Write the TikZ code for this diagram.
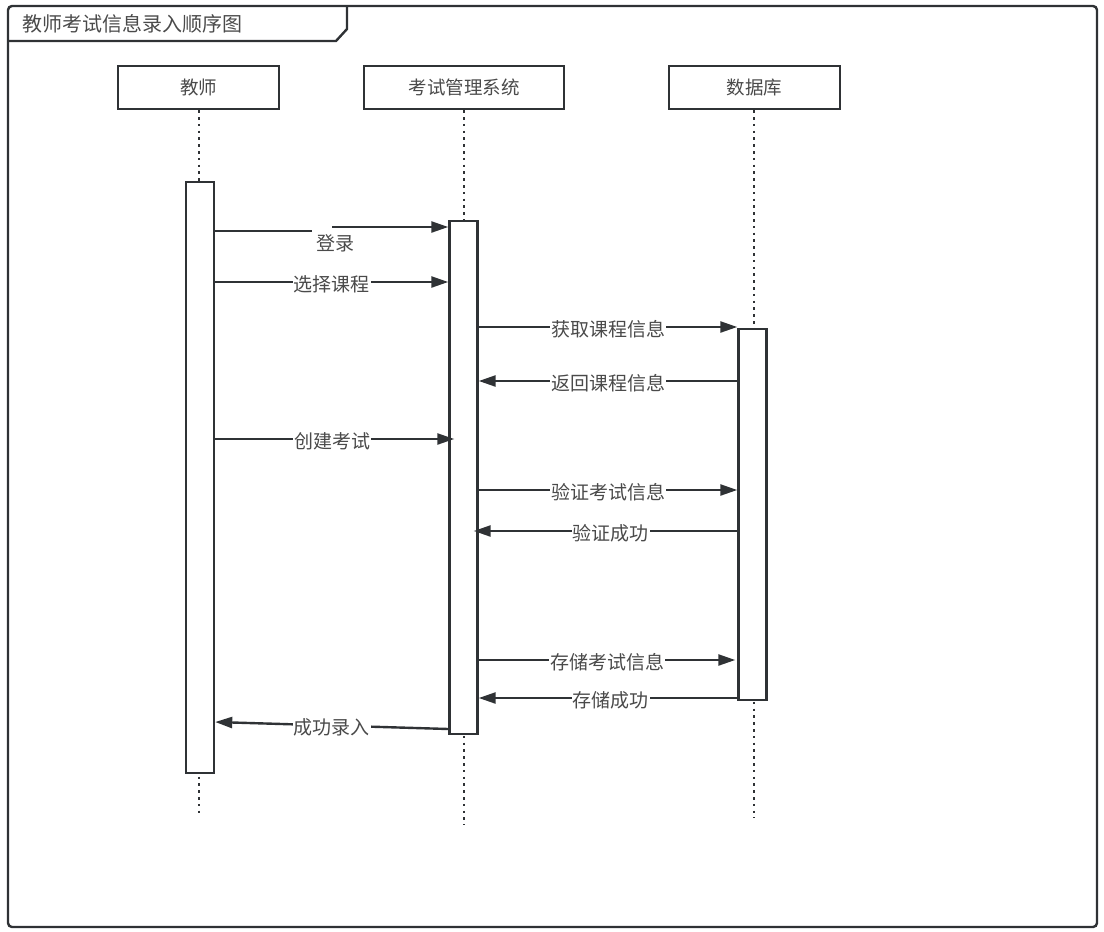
\documentclass[tikz,border=0pt]{standalone}
\usepackage{fontspec}
\setmainfont{Noto Sans CJK SC}
\usetikzlibrary{arrows.meta}
\definecolor{ln}{HTML}{2F3235}
\definecolor{tx}{HTML}{4A4A4A}
\tikzset{
  head/.style={draw=ln, line width=2.4pt, fill=white, minimum height=43pt, text=tx, font=\fontsize{18.5}{20}\selectfont, inner sep=0pt},
  act/.style={draw=ln, line width=2.4pt, fill=white, minimum width=28pt, inner sep=0pt},
  life/.style={draw=ln, line width=2.6pt, dash pattern=on 2.6pt off 4.2pt},
  msg/.style={draw=ln, line width=2.4pt, -{Triangle[length=17pt,width=11pt]}},
  lbl/.style={fill=white, text=tx, font=\fontsize{19}{21}\selectfont, inner sep=1pt, yshift=-2pt}
}
\begin{document}
\begin{tikzpicture}[x=1pt,y=-1pt]
\useasboundingbox (0,0) rectangle (1104,932);
% frame
\draw[ln, line width=2.4pt, rounded corners=4pt] (8,6) rectangle (1097,927);
\draw[ln, line width=2.4pt] (8,41) -- (336,41) -- (347,29) -- (347,6);
\node[anchor=west, text=tx, font=\fontsize{20}{22}\selectfont, inner sep=0pt] (title) at (22,24) {教师考试信息录入顺序图};
% lifeline heads
\node[head, minimum width=161pt] (t) at (198.5,87.5) {教师};
\node[head, minimum width=200pt] (s) at (464,87.5) {考试管理系统};
\node[head, minimum width=171pt] (d) at (754.5,87.5) {数据库};
% lifelines
\coordinate (tend) at (199,815);
\coordinate (send) at (464,825);
\coordinate (dend) at (754,818);
\draw[life] (t.south -| 199,0) -- (tend);
\draw[life] (s.south) -- (send);
\draw[life] (d.south -| 754,0) -- (dend);
% activations
\node[act, minimum height=591pt] (ta) at (200,477.5) {};
\node[act, minimum height=513pt] (sa) at (463.5,477.5) {};
\node[act, minimum height=371pt] (da) at (752.5,514.5) {};
% messages
\draw[ln, line width=2.4pt] (ta.east |- 0,231) -- (312,231);
\draw[msg] (332,227) -- (sa.west |- 0,227);
\node[lbl, fill=none, yshift=0pt] (m1) at (335,241) {登录};
\draw[msg] (ta.east |- 0,282) -- node[lbl] (m2) {选择课程} (sa.west |- 0,282);
\draw[msg] (sa.east |- 0,327) -- node[lbl] (m3) {获取课程信息} (da.west |- 0,327);
\draw[msg] (da.west |- 0,381) -- node[lbl] (m4) {返回课程信息} (sa.east |- 0,381);
\draw[msg] (ta.east |- 0,439) -- node[lbl, pos=0.49] (m5) {创建考试} ([xshift=6pt]sa.west |- 0,439);
\draw[msg] (sa.east |- 0,490) -- node[lbl] (m6) {验证考试信息} (da.west |- 0,490);
\draw[msg] (da.west |- 0,531) -- node[lbl, pos=0.48] (m7) {验证成功} ([xshift=-5pt]sa.east |- 0,531);
\draw[msg] (sa.east |- 0,660) -- node[lbl] (m8) {存储考试信息} ([xshift=-2pt]da.west |- 0,660);
\draw[msg] (da.west |- 0,698) -- node[lbl, pos=0.49] (m9) {存储成功} (sa.east |- 0,698);
\draw[msg] (sa.west |- 0,729) -- node[lbl, pos=0.5] (m10) {成功录入} (ta.east |- 0,722);
\end{tikzpicture}
\end{document}
